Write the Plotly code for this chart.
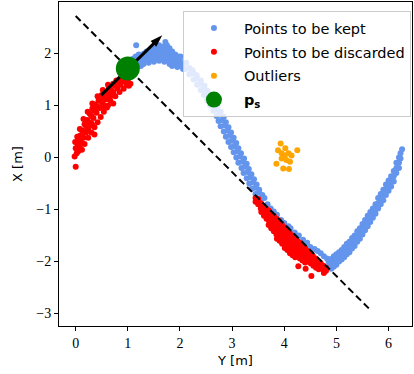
import math
import plotly.graph_objects as go

# ---------------- data ----------------
kept_pts = [
    (1.05,1.78),(1.05,1.86),(1.1,1.8),(1.1,1.9),(1.15,1.84),(1.15,1.94),(1.16,2.16),
    (1.2,1.82),(1.2,1.9),(1.21,1.98),(1.25,1.76),(1.25,1.86),(1.26,1.96),
    (1.3,1.8),(1.3,1.9),(1.31,2.0),(1.35,1.85),(1.35,1.95),(1.36,2.04),
    (1.4,1.82),(1.4,1.92),(1.41,2.02),(1.45,1.88),(1.45,1.98),(1.46,2.06),
    (1.5,1.84),(1.5,1.94),(1.51,2.04),(1.5,2.1),(1.55,1.9),(1.55,2.0),(1.56,2.08),
    (1.6,1.86),(1.6,1.96),(1.61,2.06),(1.6,2.16),(1.65,1.9),(1.65,2.0),(1.66,2.1),
    (1.7,1.84),(1.7,1.94),(1.71,2.04),(1.7,2.14),(1.72,2.22),
    (1.75,1.88),(1.75,1.98),(1.76,2.08),(1.75,2.16),(1.8,1.8),(1.8,1.9),(1.81,2.0),(1.8,2.1),
    (1.85,1.76),(1.85,1.86),(1.86,1.96),(1.85,2.04),(1.9,1.78),(1.9,1.88),(1.91,1.98),
    (1.95,1.74),(1.95,1.84),(1.96,1.94),(2.0,1.76),(2.0,1.86),(2.01,1.94),
    (2.05,1.8),(2.12,1.82),(2.06,1.7),(2.1,1.7),(2.18,1.72),(2.24,1.68),
    (2.18,1.6),(2.26,1.62),(2.32,1.58),(2.26,1.5),(2.33,1.52),(2.4,1.48),
    (2.33,1.4),(2.4,1.42),(2.47,1.38),(2.4,1.3),(2.47,1.32),(2.53,1.28),
    (2.46,1.2),(2.53,1.22),(2.6,1.18),(2.52,1.1),(2.59,1.12),(2.66,1.08),
    (2.58,1.0),(2.65,1.02),(2.72,0.98),(2.64,0.9),(2.71,0.92),(2.78,0.88),
    (2.7,0.8),(2.77,0.82),(2.84,0.78),(2.74,0.7),(2.81,0.72),(2.88,0.68),
    (2.78,0.6),(2.86,0.62),(2.93,0.58),(2.84,0.5),(2.91,0.52),(2.98,0.48),
    (2.88,0.4),(2.95,0.42),(3.03,0.38),(2.93,0.3),(3.0,0.32),(3.08,0.28),
    (2.98,0.2),(3.05,0.22),(3.12,0.18),(3.03,0.1),(3.1,0.12),(3.17,0.08),
    (3.08,0.0),(3.15,0.02),(3.23,-0.02),(3.12,-0.1),(3.2,-0.08),(3.28,-0.12),
    (3.18,-0.2),(3.25,-0.18),(3.32,-0.22),(3.22,-0.3),(3.3,-0.28),(3.37,-0.32),
    (3.28,-0.4),(3.35,-0.38),(3.42,-0.42),(3.33,-0.5),(3.4,-0.48),(3.47,-0.52),
    (3.38,-0.6),(3.45,-0.58),(3.52,-0.62),(3.45,-0.7),(3.52,-0.68),(3.58,-0.72),
    (3.56,-0.8),(3.62,-0.78),
    (3.68,-0.9),(3.74,-0.98),(3.8,-1.04),(3.86,-1.1),(3.94,-1.2),(4.0,-1.26),
    (4.08,-1.32),(4.12,-1.36),(4.2,-1.44),(4.28,-1.5),(4.36,-1.58),(4.44,-1.64),
    (4.5,-1.72),(4.58,-1.76),(4.64,-1.8),(4.7,-1.84),(4.76,-1.9),(4.82,-1.94),
    (4.85,-2.0),(4.85,-2.1),(4.9,-1.95),(4.9,-2.05),(4.9,-2.14),
    (4.95,-1.9),(4.95,-2.0),(4.95,-2.1),(5.0,-1.86),(5.0,-1.96),(5.0,-2.06),
    (5.05,-1.82),(5.05,-1.92),(5.05,-2.0),(5.1,-1.78),(5.1,-1.88),(5.1,-1.96),
    (5.15,-1.72),(5.15,-1.82),(5.15,-1.92),(5.2,-1.66),(5.2,-1.76),(5.2,-1.86),
    (5.25,-1.62),(5.25,-1.72),(5.25,-1.82),(5.3,-1.55),(5.3,-1.65),(5.3,-1.75),
    (5.35,-1.5),(5.35,-1.6),(5.35,-1.7),(5.4,-1.42),(5.4,-1.52),(5.4,-1.62),
    (5.45,-1.36),(5.45,-1.46),(5.45,-1.56),(5.5,-1.28),(5.5,-1.38),(5.5,-1.48),
    (5.55,-1.2),(5.55,-1.3),(5.55,-1.4),(5.6,-1.12),(5.6,-1.22),(5.6,-1.32),
    (5.65,-1.05),(5.65,-1.15),(5.65,-1.24),(5.7,-0.98),(5.7,-1.08),(5.7,-1.16),
    (5.75,-0.9),(5.75,-1.0),(5.75,-1.08),(5.8,-0.78),(5.8,-0.88),(5.8,-0.98),
    (5.85,-0.7),(5.85,-0.8),(5.85,-0.9),(5.9,-0.62),(5.9,-0.72),(5.9,-0.82),
    (5.95,-0.52),(5.95,-0.62),(5.95,-0.72),(6.0,-0.44),(6.0,-0.54),(6.0,-0.64),
    (6.05,-0.36),(6.05,-0.46),(6.05,-0.56),(6.1,-0.26),(6.1,-0.36),(6.1,-0.46),
    (6.15,-0.1),(6.15,-0.2),(6.15,-0.3),(6.2,0.0),(6.2,-0.1),(6.2,-0.2),
    (6.23,0.08),(6.23,-0.02),(6.26,0.16),
]

discarded_pts = [
    (0.0,-0.18),(-0.02,0.02),(0.02,0.08),(0.0,0.18),(0.05,0.12),(0.04,0.25),(0.08,0.2),
    (0.06,0.34),(0.1,0.3),(0.12,0.4),(0.08,0.42),(0.15,0.38),(0.16,0.5),(0.12,0.52),
    (0.2,0.48),(0.2,0.6),(0.17,0.64),(0.24,0.56),(0.26,0.68),(0.22,0.72),(0.3,0.66),
    (0.3,0.8),(0.27,0.84),(0.34,0.76),(0.36,0.9),(0.32,0.94),(0.4,0.86),(0.42,0.98),
    (0.38,1.02),(0.46,0.95),(0.48,1.08),(0.44,1.1),(0.52,1.04),(0.54,1.16),(0.5,1.2),
    (0.58,1.12),(0.62,1.22),(0.58,1.26),(0.66,1.18),(0.68,1.3),(0.64,1.34),(0.72,1.26),
    (0.75,1.38),(0.72,1.42),(0.8,1.33),(0.82,1.45),(0.78,1.48),(0.86,1.4),(0.9,1.5),
    (0.88,1.54),(0.94,1.46),(0.97,1.55),(1.0,1.5),(0.55,0.98),(0.32,0.62),(0.72,1.04),
    (0.62,1.0),(0.98,1.4),(1.05,1.42),
    (0.12,0.15),(0.17,0.26),(0.24,0.38),(0.3,0.48),(0.36,0.58),(0.42,0.68),(0.48,0.78),
    (0.54,0.88),(0.6,0.96),(0.66,1.1),(0.76,1.18),(0.84,1.26),(0.92,1.32),(1.02,1.38),
    (0.03,0.4),(0.08,0.55),(0.15,0.74),(0.23,0.88),(0.32,1.04),(0.42,1.18),(0.52,1.3),
    (0.62,1.4),(-0.01,0.3),(0.36,0.44),(0.7,1.2),
    (3.45,-0.78),(3.45,-0.85),(3.5,-0.8),(3.5,-0.9),
    (3.55,-0.88),(3.55,-0.98),(3.56,-1.05),(3.6,-0.93),(3.6,-1.03),(3.61,-1.12),
    (3.65,-0.98),(3.65,-1.08),(3.66,-1.18),(3.7,-1.02),(3.7,-1.12),(3.71,-1.22),(3.7,-1.3),
    (3.75,-1.08),(3.75,-1.18),(3.76,-1.28),(3.75,-1.36),(3.8,-1.12),(3.8,-1.22),(3.81,-1.32),(3.8,-1.42),
    (3.85,-1.18),(3.85,-1.28),(3.86,-1.38),(3.85,-1.48),(3.86,-1.56),
    (3.9,-1.22),(3.9,-1.32),(3.91,-1.42),(3.9,-1.52),(3.91,-1.6),
    (3.95,-1.28),(3.95,-1.38),(3.96,-1.48),(3.95,-1.58),(3.96,-1.66),
    (4.0,-1.34),(4.0,-1.44),(4.01,-1.54),(4.0,-1.64),(4.01,-1.74),
    (4.05,-1.38),(4.05,-1.48),(4.06,-1.58),(4.05,-1.68),(4.06,-1.78),
    (4.1,-1.44),(4.1,-1.54),(4.11,-1.64),(4.1,-1.74),(4.11,-1.84),
    (4.15,-1.5),(4.15,-1.6),(4.16,-1.7),(4.15,-1.8),(4.16,-1.88),
    (4.2,-1.54),(4.2,-1.64),(4.21,-1.74),(4.2,-1.84),(4.21,-1.92),
    (4.25,-1.6),(4.25,-1.7),(4.26,-1.8),(4.25,-1.9),
    (4.3,-1.64),(4.3,-1.74),(4.31,-1.84),(4.3,-1.94),
    (4.35,-1.7),(4.35,-1.8),(4.36,-1.9),(4.35,-1.98),
    (4.4,-1.74),(4.4,-1.84),(4.41,-1.94),(4.4,-2.02),
    (4.45,-1.8),(4.45,-1.9),(4.46,-2.0),(4.5,-1.84),(4.5,-1.94),(4.51,-2.04),
    (4.55,-1.9),(4.55,-2.0),(4.56,-2.08),(4.6,-1.94),(4.6,-2.04),(4.61,-2.12),
    (4.65,-2.0),(4.65,-2.08),(4.66,-2.15),(4.7,-2.04),(4.7,-2.12),
    (4.75,-2.08),(4.75,-2.16),(4.76,-2.22),(4.8,-2.12),(4.8,-2.18),
    (4.27,-2.09),(4.41,-2.14),(4.52,-2.28),
]

outlier_pts = [
    (3.93,0.27),(3.88,0.14),(3.95,0.08),(4.01,0.04),(4.08,0.08),(4.25,0.14),
    (4.14,0.04),(4.04,-0.05),(4.11,-0.08),(3.85,-0.12),(3.98,-0.21),(4.09,-0.22),
    (3.95,-0.02),(4.02,0.18),
]

ps_x = [1.0]
ps_y = [1.71]

sep_line_x = [0.0, 5.66]
sep_line_y = [2.72, -2.94]

arrow_x = [0.49, 1.66]
arrow_y = [1.20, 2.35]

x_ticks = [0, 1, 2, 3, 4, 5, 6]
y_ticks = [-3, -2, -1, 0, 1, 2]

legend_labels = ["Points to be kept", "Points to be discarded", "Outliers", "<b>p<sub>s</sub></b>"]

# ---------------- figure ----------------
def xs(p):
    return [a for a, _ in p]

def ys(p):
    return [b for _, b in p]

fig = go.Figure()
pt_size = 6
fig.add_trace(go.Scatter(x=xs(kept_pts), y=ys(kept_pts), mode="markers",
                         marker=dict(color="#6495ED", size=pt_size, line=dict(width=0)),
                         name=legend_labels[0], legendgroup="a"))
fig.add_trace(go.Scatter(x=xs(discarded_pts), y=ys(discarded_pts), mode="markers",
                         marker=dict(color="#FF0000", size=pt_size, line=dict(width=0)),
                         name=legend_labels[1], legendgroup="b"))
fig.add_trace(go.Scatter(x=xs(outlier_pts), y=ys(outlier_pts), mode="markers",
                         marker=dict(color="#FFA500", size=pt_size, line=dict(width=0)),
                         name=legend_labels[2], legendgroup="c"))
fig.add_trace(go.Scatter(x=sep_line_x, y=sep_line_y, mode="lines",
                         line=dict(color="black", width=2, dash="7px,4px"),
                         showlegend=False, hoverinfo="skip"))

# arrow: shaft stops under the head, head is an 'arrow' marker at the tip
dx = arrow_x[1] - arrow_x[0]
dy = arrow_y[1] - arrow_y[0]
L = math.hypot(dx, dy)
back = 0.14
shaft_x = [arrow_x[0], arrow_x[1] - back * dx / L]
shaft_y = [arrow_y[0], arrow_y[1] - back * dy / L]
ang = math.degrees(math.atan2(dx, dy))
fig.add_trace(go.Scatter(x=shaft_x, y=shaft_y, mode="lines",
                         line=dict(color="black", width=3),
                         showlegend=False, hoverinfo="skip"))
fig.add_trace(go.Scatter(x=[arrow_x[1]], y=[arrow_y[1]], mode="markers",
                         marker=dict(symbol="arrow", size=13, angle=ang, color="black",
                                     line=dict(width=0)),
                         showlegend=False, hoverinfo="skip"))

fig.add_trace(go.Scatter(x=ps_x, y=ps_y, mode="markers",
                         marker=dict(color="#008000", size=24, line=dict(width=0)),
                         name=legend_labels[3], legendgroup="d"))

axis_common = dict(showgrid=False, zeroline=False, showline=True, linecolor="black",
                   linewidth=1, mirror=True, ticks="outside", ticklen=4, tickwidth=1,
                   tickcolor="black",
                   tickfont=dict(family="Liberation Serif", size=14, color="black"))

fig.update_layout(
    width=414, height=374,
    margin=dict(l=59, r=2, t=2, b=48),
    paper_bgcolor="white", plot_bgcolor="white",
    xaxis=dict(range=[-0.32, 6.45], tickvals=x_ticks,
               title=dict(text="Y [m]", font=dict(family="DejaVu Sans", size=13, color="black"),
                          standoff=6),
               **axis_common),
    yaxis=dict(range=[-3.24, 2.99], tickvals=y_ticks,
               title=dict(text="X [m]", font=dict(family="DejaVu Sans", size=13, color="black"),
                          standoff=10),
               **axis_common),
    legend=dict(x=0.997, y=0.972, xanchor="right", yanchor="top",
                bgcolor="rgba(255,255,255,0.8)", bordercolor="#cccccc", borderwidth=1,
                font=dict(family="DejaVu Sans", size=14.5, color="black"),
                tracegroupgap=2, itemwidth=50),
    showlegend=True,
)

fig.write_html("out.html")
